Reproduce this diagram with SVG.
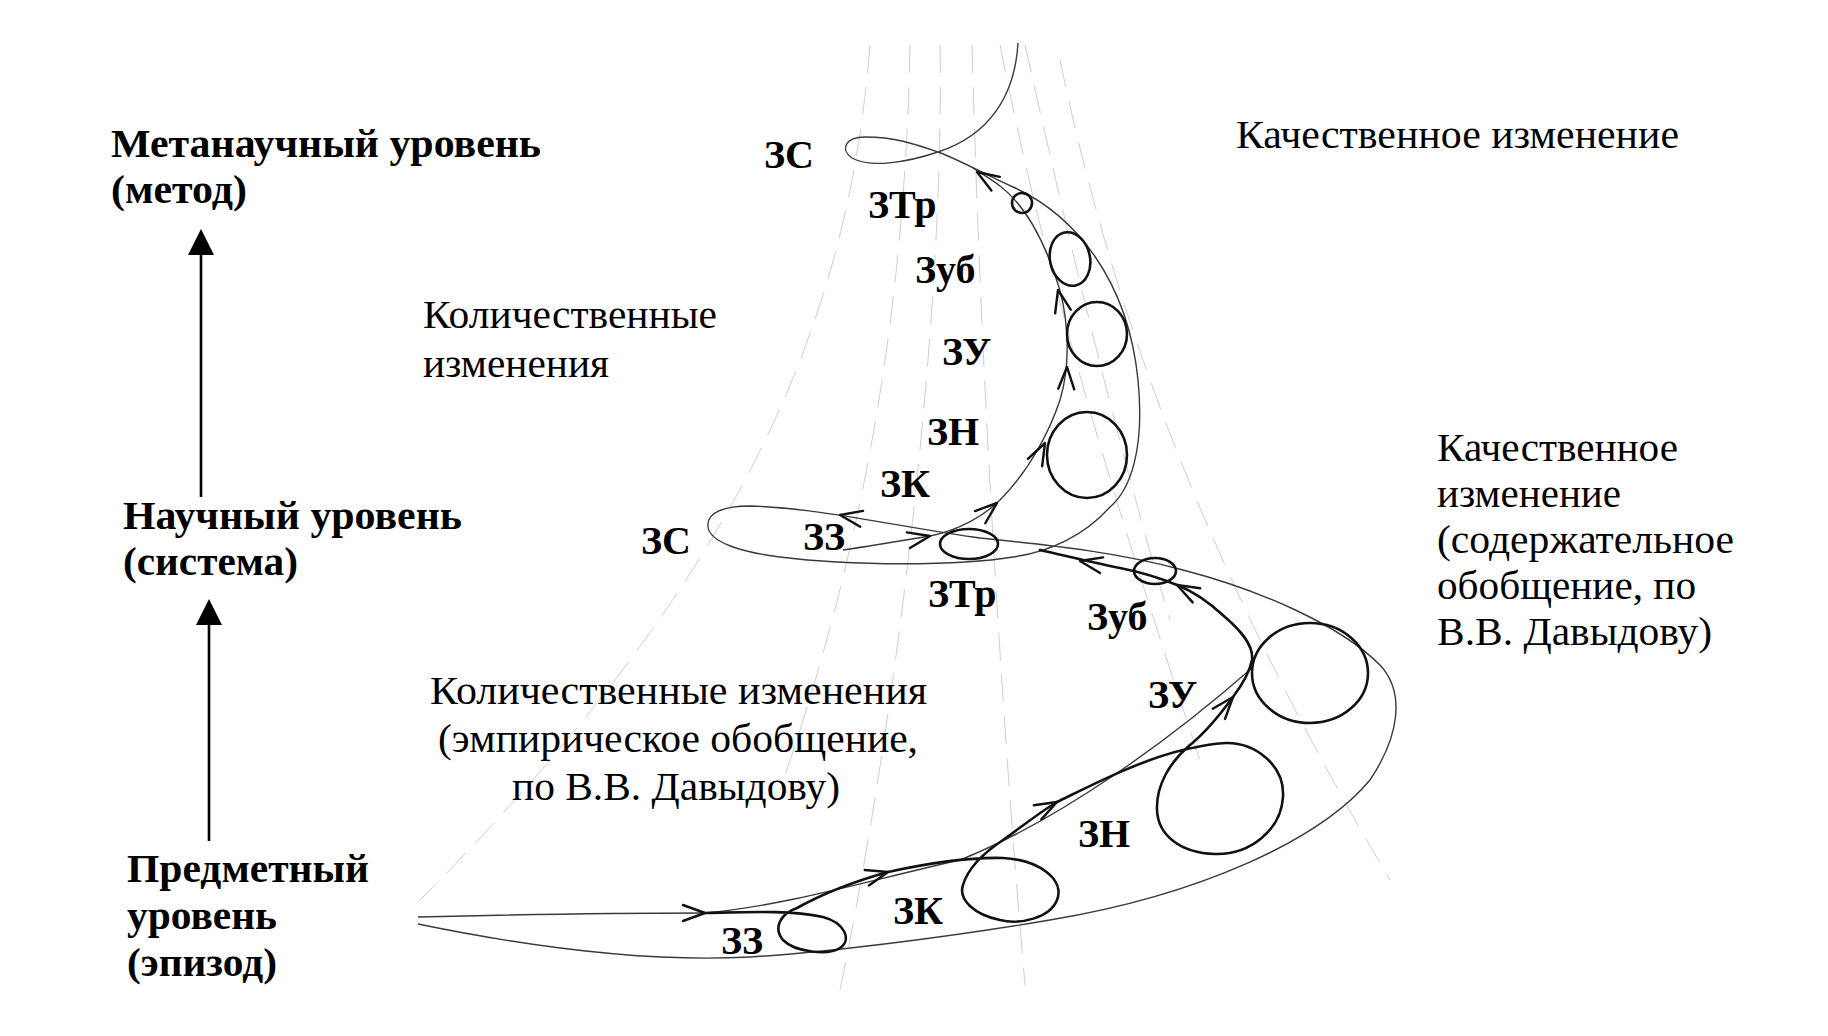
<svg xmlns="http://www.w3.org/2000/svg" xmlns:xlink="http://www.w3.org/1999/xlink" width="1828" height="1036" viewBox="0 0 1828 1036">
<style>
.lvl{font-family:'Liberation Serif',serif;font-weight:bold;font-size:41px;fill:#000}
.lbl{font-family:'Liberation Serif',serif;font-weight:bold;font-size:40px;fill:#000}
.txt{font-family:'Liberation Serif',serif;font-size:41px;fill:#000}
.fan{fill:none;stroke:#cfcfcf;stroke-width:1;stroke-dasharray:28 14}
.env{fill:none;stroke:#3a3a3a;stroke-width:1.4}
.trj{fill:none;stroke:#111;stroke-width:2.6;stroke-linecap:round;stroke-linejoin:round}
.ring{fill:none;stroke:#111;stroke-width:2.6}
.chev{fill:none;stroke:#111;stroke-width:2.4;stroke-linecap:round;stroke-linejoin:round}
.up{stroke:#000;stroke-width:2.6;fill:none}
</style>
<defs>
<marker id="tri" markerUnits="userSpaceOnUse" markerWidth="26" markerHeight="26" viewBox="0 0 25 25" refX="0" refY="12.5" orient="auto">
<path d="M0,0 L25,12.5 L0,25 z" fill="#000"/>
</marker>
<path id="chev" class="chev" d="M-22,-8 L0,0 L-22,8"/>
</defs>
<rect width="1828" height="1036" fill="#fff"/>

<g id="fan-lines">
<path class="fan" d="M870,45 C850,300 760,560 420,900"/>
<path class="fan" d="M910,45 C905,320 860,560 780,790"/>
<path class="fan" d="M940,45 C945,300 900,700 840,990"/>
<path class="fan" d="M972,45 C980,350 1000,700 1025,985"/>
<path class="fan" d="M1000,45 C1050,300 1130,550 1200,760"/>
<path class="fan" d="M1025,45 C1060,200 1110,420 1170,620"/>
<path class="fan" d="M1060,60 C1110,300 1200,560 1390,880"/>
</g>

<g id="connectors">
<line class="up" x1="201" y1="497" x2="201" y2="255" marker-end="url(#tri)"/>
<line class="up" x1="209" y1="841" x2="209" y2="625" marker-end="url(#tri)"/>

<path id="envelope" class="env" d="M1018,43 C1015,95 990,135 938,152 C905,163 870,168 852,158 C840,150 845,137 865,137 C895,137 915,144 938,152 C960,160 990,177 1013,187 C1075,215 1128,280 1138,380 C1145,450 1130,490 1110,507 C1085,535 1050,552 1013,557 C960,566 850,566 780,557 C740,552 710,542 708,527 C706,512 725,506 750,506 C820,508 900,527 980,538 C1060,546 1120,553 1183,570 C1260,590 1340,625 1380,665 C1405,692 1400,735 1370,780 C1320,840 1200,895 1050,920 C950,937 830,952 750,957 C640,963 520,945 418,924"/>
<path class="env" d="M418,917 C500,915 600,913 705,913"/>
<path class="env" d="M705,913 C790,905 870,880 960,860 C1060,820 1170,740 1252,668"/>
<path class="env" d="M843,550 C870,546 900,541 930,536 C960,530 985,515 1000,500 C1030,470 1050,430 1060,400 C1072,360 1068,310 1055,275 C1043,240 1025,205 1000,186 C990,178 982,174 973,168"/>

<path class="trj" d="M705,913 C750,912 790,910 823,917 C845,923 852,940 840,948 C828,956 795,952 783,940 C773,928 780,914 797,908 C815,898 845,884 888,872 C920,865 965,857 1003,858 C1040,860 1065,880 1057,900 C1050,918 1020,925 1000,920 C975,915 958,900 963,885 C968,868 985,852 1003,840 C1020,828 1040,812 1057,802 C1090,786 1140,760 1183,750 C1200,746 1215,743 1227,743 C1255,743 1285,765 1283,797 C1281,830 1250,855 1215,854 C1180,853 1158,835 1157,810 C1156,785 1170,762 1190,745 C1205,733 1222,712 1233,697 C1242,685 1250,670 1252,660 C1254,645 1240,630 1225,617 C1210,603 1195,592 1177,585 C1160,578 1140,572 1120,568 C1100,564 1075,558 1040,550"/>

<use xlink:href="#chev" transform="translate(705,913) rotate(0)"/>
<use xlink:href="#chev" transform="translate(888,872) rotate(-15)"/>
<use xlink:href="#chev" transform="translate(1057,802) rotate(-28)"/>
<use xlink:href="#chev" transform="translate(1233,697) rotate(-50)"/>
<use xlink:href="#chev" transform="translate(1177,585) rotate(-152)"/>
<use xlink:href="#chev" transform="translate(1080,561) rotate(-169)"/>
<use xlink:href="#chev" transform="translate(840,515) rotate(-170)"/>
<use xlink:href="#chev" transform="translate(930,536) rotate(-11)"/>
<use xlink:href="#chev" transform="translate(997,503) rotate(-40)"/>
<use xlink:href="#chev" transform="translate(1045,443) rotate(-63)"/>
<use xlink:href="#chev" transform="translate(1067,367) rotate(-88)"/>
<use xlink:href="#chev" transform="translate(1058,290) rotate(-103)"/>
<use xlink:href="#chev" transform="translate(977,172) rotate(-148)"/>
</g>

<g id="level-meta"><text class="lvl" x="111" y="157" textLength="430" lengthAdjust="spacingAndGlyphs">Метанаучный уровень</text><text class="lvl" x="111" y="203" textLength="136" lengthAdjust="spacingAndGlyphs">(метод)</text></g>
<g id="level-science"><text class="lvl" x="123" y="529" textLength="339" lengthAdjust="spacingAndGlyphs">Научный уровень</text><text class="lvl" x="123" y="575" textLength="175" lengthAdjust="spacingAndGlyphs">(система)</text></g>
<g id="level-subject"><text class="lvl" x="127" y="882" textLength="242" lengthAdjust="spacingAndGlyphs">Предметный</text><text class="lvl" x="127" y="929" textLength="150" lengthAdjust="spacingAndGlyphs">уровень</text><text class="lvl" x="127" y="976" textLength="150" lengthAdjust="spacingAndGlyphs">(эпизод)</text></g>

<g id="note-quant-top"><text class="txt" x="423" y="328" textLength="294" lengthAdjust="spacingAndGlyphs">Количественные</text><text class="txt" x="423" y="377" textLength="186" lengthAdjust="spacingAndGlyphs">изменения</text></g>
<g id="note-qual-top"><text class="txt" x="1236" y="148" textLength="443" lengthAdjust="spacingAndGlyphs">Качественное изменение</text></g>
<g id="note-qual-right"><text class="txt" x="1437" y="461" textLength="241" lengthAdjust="spacingAndGlyphs">Качественное</text><text class="txt" x="1437" y="507" textLength="184" lengthAdjust="spacingAndGlyphs">изменение</text><text class="txt" x="1437" y="553" textLength="297" lengthAdjust="spacingAndGlyphs">(содержательное</text><text class="txt" x="1437" y="599" textLength="259" lengthAdjust="spacingAndGlyphs">обобщение, по</text><text class="txt" x="1437" y="645" textLength="275" lengthAdjust="spacingAndGlyphs">В.В. Давыдову)</text></g>
<g id="note-quant-bottom"><text class="txt" x="430" y="704" textLength="497" lengthAdjust="spacingAndGlyphs">Количественные изменения</text><text class="txt" x="438" y="752" textLength="480" lengthAdjust="spacingAndGlyphs">(эмпирическое обобщение,</text><text class="txt" x="512" y="800" textLength="328" lengthAdjust="spacingAndGlyphs">по В.В. Давыдову)</text></g>

<g id="top-zs"><text class="lbl" x="764" y="168">ЗС</text></g>
<g id="top-ztr"><circle class="ring" cx="1022" cy="203" r="10"/><text class="lbl" x="868" y="218">ЗТр</text></g>
<g id="top-zub"><ellipse class="ring" cx="1070" cy="259" rx="20" ry="27" transform="rotate(-12 1070 259)"/><text class="lbl" x="915" y="283">Зуб</text></g>
<g id="top-zu"><ellipse class="ring" cx="1097" cy="334" rx="30" ry="32"/><text class="lbl" x="942" y="365">ЗУ</text></g>
<g id="top-zn"><ellipse class="ring" cx="1087" cy="455" rx="40" ry="43"/><text class="lbl" x="927" y="445">ЗН</text></g>
<g id="top-zk"><text class="lbl" x="880" y="497">ЗК</text></g>
<g id="top-zz"><text class="lbl" x="803" y="550">ЗЗ</text></g>
<g id="mid-zs"><text class="lbl" x="641" y="554">ЗС</text></g>
<g id="mid-ztr"><ellipse class="ring" cx="969" cy="544" rx="29" ry="15"/><text class="lbl" x="928" y="607">ЗТр</text></g>
<g id="mid-zub"><ellipse class="ring" cx="1155" cy="571" rx="21" ry="13"/><text class="lbl" x="1087" y="630">Зуб</text></g>
<g id="low-zu"><ellipse class="ring" cx="1310" cy="673" rx="58" ry="50"/><text class="lbl" x="1148" y="708">ЗУ</text></g>
<g id="low-zn"><text class="lbl" x="1078" y="847">ЗН</text></g>
<g id="low-zk"><text class="lbl" x="893" y="924">ЗК</text></g>
<g id="low-zz"><text class="lbl" x="721" y="954">ЗЗ</text></g>
</svg>
